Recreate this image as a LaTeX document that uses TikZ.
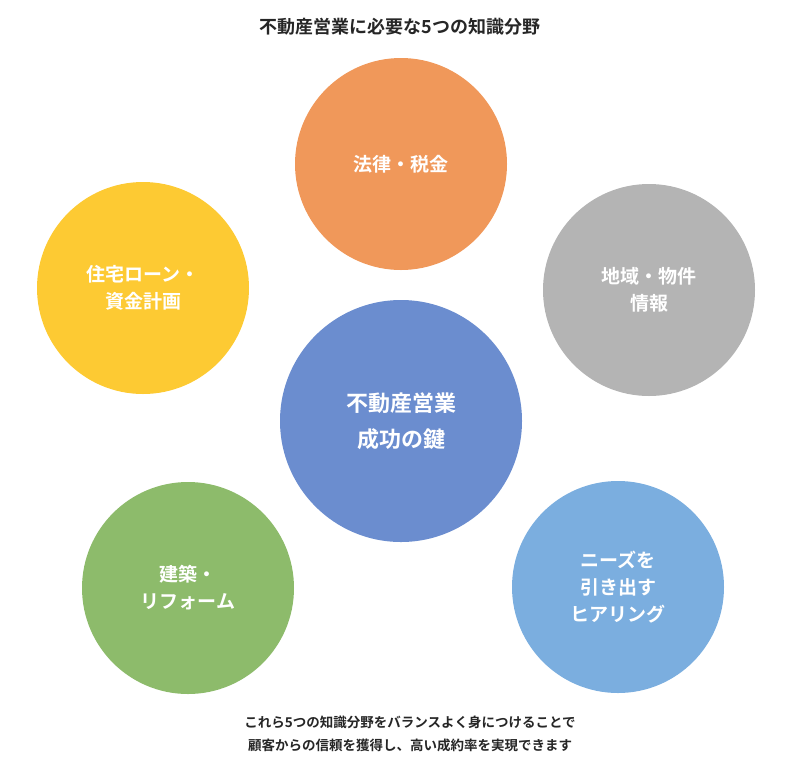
\documentclass[tikz,border=0pt]{standalone}
\usepackage{fontspec}
\setmainfont{Noto Sans CJK JP}[BoldFont={Noto Sans CJK JP Bold}]
\usepackage{tikz}
\definecolor{lawOrange}{HTML}{F0985A}
\definecolor{areaGray}{HTML}{B4B4B4}
\definecolor{loanYellow}{HTML}{FDCA33}
\definecolor{buildGreen}{HTML}{8DBB6B}
\definecolor{needBlue}{HTML}{7BAEDF}
\definecolor{keyBlue}{HTML}{6B8DCF}
\tikzset{
    field/.style={circle, minimum size=212pt, inner sep=0pt, text=white, align=center,
        font=\bfseries\fontsize{19pt}{27pt}\selectfont},
    caption/.style={text=black!85, align=center}
}
\begin{document}
\begin{tikzpicture}[x=1pt, y=-1pt]
                \useasboundingbox (0, 0) rectangle (800, 777);
                \node[caption, font=\bfseries\fontsize{18pt}{22pt}\selectfont] (title) at (400, 27) {不動産営業に必要な5つの知識分野};
                \node[field, fill=lawOrange] (law) at (401, 164) {法律・税金};
                \node[field, fill=areaGray] (area) at (649, 290) {地域・物件\\情報};
                \node[field, fill=loanYellow] (loan) at (143, 288) {住宅ローン・\\資金計画};
                \node[field, fill=buildGreen] (build) at (188, 588) {建築・\\リフォーム};
                \node[field, fill=needBlue] (need) at (618, 587) {ニーズを\\引き出す\\ヒアリング};
                \node[field, fill=keyBlue, minimum size=242pt, font=\bfseries\fontsize{22pt}{36pt}\selectfont] (key) at (401, 421) {不動産営業\\成功の鍵};
                \node[caption, font=\bfseries\fontsize{13.5pt}{23pt}\selectfont] (note) at (410, 734) {これら5つの知識分野をバランスよく身につけることで\\顧客からの信頼を獲得し、高い成約率を実現できます};
\end{tikzpicture}
\end{document}
